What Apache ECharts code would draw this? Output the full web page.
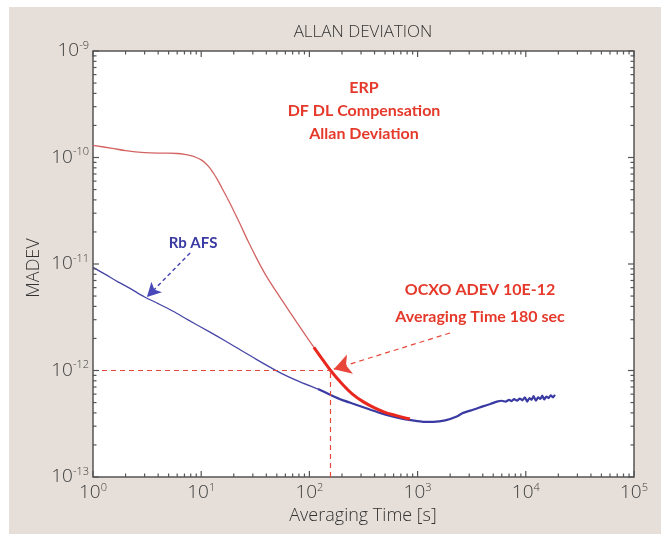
<!DOCTYPE html>
<html>
<head>
<meta charset="utf-8">
<script src="https://cdn.jsdelivr.net/npm/echarts@6/dist/echarts.min.js"></script>
<style>
html,body{margin:0;padding:0;background:#ffffff;}
#chart{width:661px;height:534px;}
</style>
</head>
<body>
<div id="chart"></div>
<script>
// ---- data ----
// ERP (DF DL compensation) curve, thin part
const redTau = [1, 1.5, 2, 3, 4, 5, 6, 7, 8, 9, 10, 11, 12, 13, 14, 16, 18, 20, 23, 27, 33, 40, 54, 77, 100, 130, 157];
const redVal = [1.30e-10, 1.22e-10, 1.16e-10, 1.11e-10, 1.10e-10, 1.10e-10, 1.09e-10, 1.07e-10, 1.04e-10, 1.0e-10, 9.5e-11, 8.8e-11, 8.0e-11, 7.1e-11, 6.3e-11, 4.9e-11, 3.9e-11, 3.15e-11, 2.35e-11, 1.65e-11, 1.1e-11, 7.7e-12, 4.8e-12, 2.8e-12, 1.9e-12, 1.3e-12, 1.0e-12];
// ERP curve, bold highlighted part
const redTau2 = [110, 130, 157, 200, 250, 313, 400, 500, 620, 750, 850];
const redVal2 = [1.65e-12, 1.3e-12, 1.0e-12, 7.5e-13, 6.0e-13, 5.1e-13, 4.45e-13, 4.05e-13, 3.8e-13, 3.6e-13, 3.5e-13];
// Rb AFS curve, thin early part
const blueTau = [1, 1.3, 1.7, 2.2, 3, 4, 5.5, 7.5, 10, 14, 20, 30, 54, 80, 120];
const blueVal = [9.3e-12, 8.0e-12, 6.8e-12, 5.9e-12, 4.9e-12, 4.25e-12, 3.6e-12, 3.0e-12, 2.55e-12, 2.1e-12, 1.7e-12, 1.33e-12, 9.5e-13, 7.9e-13, 6.7e-13];
// Rb AFS curve, noisy later part
const blueTau2 = [120, 157, 200, 250, 320, 449, 560, 700, 900, 1122, 1400, 1800, 2300, 2630, 3300, 4000, 4700, 5400, 6000, 6500, 7000, 7400, 7800, 8300, 8800, 9300, 9800, 10300, 10800, 11300, 11800, 12400, 13000, 13600, 14200, 14800, 15500, 16200, 17000, 17800, 18600];
const blueVal2 = [6.7e-13, 5.9e-13, 5.3e-13, 4.9e-13, 4.5e-13, 4.0e-13, 3.75e-13, 3.55e-13, 3.4e-13, 3.3e-13, 3.3e-13, 3.4e-13, 3.7e-13, 4.0e-13, 4.3e-13, 4.6e-13, 4.85e-13, 5.1e-13, 5.2e-13, 5.1e-13, 5.3e-13, 5.15e-13, 5.4e-13, 5.2e-13, 5.45e-13, 5.25e-13, 5.6e-13, 5.1e-13, 5.5e-13, 5.3e-13, 5.75e-13, 5.2e-13, 5.6e-13, 5.4e-13, 5.8e-13, 5.35e-13, 5.7e-13, 5.5e-13, 5.85e-13, 5.6e-13, 5.9e-13];
// marker: 1e-12 reached at ~160 s
const markTau = 157;
const markVal = 1e-12;
// axis ticks
const xMajorTicks = [1, 10, 100, 1000, 10000, 100000];
const yMajorTicks = [1e-13, 1e-12, 1e-11, 1e-10, 1e-9];
const minorMultipliers = [2, 3, 4, 5, 6, 7, 8, 9];
const xMin = 1, xMax = 100000, yMin = 1e-13, yMax = 1e-9;

const xMinorTicks = [];
xMajorTicks.slice(0, -1).forEach(d => minorMultipliers.forEach(m => xMinorTicks.push(d * m)));
const yMinorTicks = [];
yMajorTicks.slice(0, -1).forEach(d => minorMultipliers.forEach(m => yMinorTicks.push(d * m)));

const zip = (a, b) => a.map((v, i) => [v, b[i]]);

const xTickData = xMajorTicks.map(v => [v, yMin, 1]).concat(xMinorTicks.map(v => [v, yMin, 0]));
const yTickData = yMajorTicks.map(v => [xMin, v, 1]).concat(yMinorTicks.map(v => [xMin, v, 0]));

const FONT = '"Open Sans", "DejaVu Sans", sans-serif';
const BOLD = 'Lato, "Open Sans", sans-serif';
const RED = '#e5392b';
const BLUE = '#3a3aa3';
const TICK = '#555555';

function fmt(v) {
  const e = Math.round(Math.log10(v));
  return '10{sup|' + e + '}';
}
const richLabel = {
  sup: { fontSize: 11, fontFamily: FONT, color: '#3c3c3c', padding: [0, 0, 11, 0] }
};

const chart = echarts.init(document.getElementById('chart'), null, { renderer: 'canvas' });
chart.setOption({
  animation: false,
  backgroundColor: '#ffffff',
  graphic: [
    { type: 'rect', z: -10, silent: true, shape: { x: 9, y: 7, width: 652, height: 527 }, style: { fill: '#e6dfd9' } },
    { type: 'text', x: 363, y: 32, style: { text: 'ALLAN DEVIATION', fill: '#333', font: '300 17px ' + FONT, textAlign: 'center', textVerticalAlign: 'middle' } },
    { type: 'text', x: 363, y: 516, style: { text: 'Averaging Time [s]', fill: '#333', font: '300 18px ' + FONT, textAlign: 'center', textVerticalAlign: 'middle' } },
    { type: 'text', x: 34, y: 268, rotation: Math.PI / 2, style: { text: 'MADEV', fill: '#333', font: '300 18px ' + FONT, textAlign: 'center', textVerticalAlign: 'middle' } },
    { type: 'text', x: 364, y: 88, z: 20, style: { text: 'ERP', fill: RED, font: 'bold 16px ' + BOLD, textAlign: 'center', textVerticalAlign: 'middle' } },
    { type: 'text', x: 364, y: 111, z: 20, style: { text: 'DF DL Compensation', fill: RED, font: 'bold 16px ' + BOLD, textAlign: 'center', textVerticalAlign: 'middle' } },
    { type: 'text', x: 364, y: 134, z: 20, style: { text: 'Allan Deviation', fill: RED, font: 'bold 16px ' + BOLD, textAlign: 'center', textVerticalAlign: 'middle' } },
    { type: 'text', x: 480, y: 290, z: 20, style: { text: 'OCXO ADEV 10E-12', fill: RED, font: 'bold 16px ' + BOLD, textAlign: 'center', textVerticalAlign: 'middle' } },
    { type: 'text', x: 480, y: 317, z: 20, style: { text: 'Averaging Time 180 sec', fill: RED, font: 'bold 16px ' + BOLD, textAlign: 'center', textVerticalAlign: 'middle' } },
    { type: 'text', x: 193, y: 243, z: 20, style: { text: 'Rb AFS', fill: BLUE, font: 'bold 15px ' + BOLD, textAlign: 'center', textVerticalAlign: 'middle' } }
  ],
  grid: {
    left: 93, right: 27, top: 51, bottom: 57,
    show: true, backgroundColor: '#ffffff', borderColor: '#555555', borderWidth: 1.5,
    outerBoundsMode: 'none'
  },
  xAxis: {
    type: 'log', logBase: 10, min: xMin, max: xMax,
    axisLine: { show: false }, axisTick: { show: false }, splitLine: { show: false },
    axisLabel: { margin: 5, fontSize: 19, fontWeight: 300, fontFamily: FONT, color: '#3c3c3c', formatter: fmt, rich: richLabel }
  },
  yAxis: {
    type: 'log', logBase: 10, min: yMin, max: yMax,
    axisLine: { show: false }, axisTick: { show: false }, splitLine: { show: false },
    axisLabel: { margin: 4, fontSize: 19, fontWeight: 300, fontFamily: FONT, color: '#3c3c3c', formatter: fmt, rich: richLabel }
  },
  series: [
    {
      type: 'custom', name: 'xticks', silent: true, clip: false, z: 5,
      data: xTickData,
      renderItem: function (params, api) {
        const v = api.value(0);
        const b = api.coord([v, yMin]);
        const t = api.coord([v, yMax]);
        const len = api.value(2) ? 6 : 3.5;
        return { type: 'group', children: [
          { type: 'line', shape: { x1: b[0], y1: b[1], x2: b[0], y2: b[1] - len }, style: { stroke: TICK, lineWidth: 1.2 } },
          { type: 'line', shape: { x1: t[0], y1: t[1], x2: t[0], y2: t[1] + len }, style: { stroke: TICK, lineWidth: 1.2 } }
        ] };
      }
    },
    {
      type: 'custom', name: 'yticks', silent: true, clip: false, z: 5,
      data: yTickData,
      renderItem: function (params, api) {
        const v = api.value(1);
        const l = api.coord([xMin, v]);
        const r = api.coord([xMax, v]);
        const len = api.value(2) ? 6 : 3.5;
        return { type: 'group', children: [
          { type: 'line', shape: { x1: l[0], y1: l[1], x2: l[0] + len, y2: l[1] }, style: { stroke: TICK, lineWidth: 1.2 } },
          { type: 'line', shape: { x1: r[0], y1: r[1], x2: r[0] - len, y2: r[1] }, style: { stroke: TICK, lineWidth: 1.2 } }
        ] };
      }
    },
    {
      type: 'line', name: 'Rb AFS', data: zip(blueTau, blueVal), showSymbol: false, smooth: 0.3,
      lineStyle: { color: '#4646a6', width: 1.3 }, z: 3,
      markLine: {
        silent: true, symbol: ['none', 'arrow'], symbolSize: [11, 14], label: { show: false },
        lineStyle: { color: '#4848b8', type: [4, 3], width: 1.5 },
        data: [[{ coord: [7.9, 1.27e-11] }, { coord: [3.15, 4.9e-12] }]]
      }
    },
    {
      type: 'line', name: 'Rb AFS noisy', data: zip(blueTau2, blueVal2), showSymbol: false, smooth: 0.2,
      lineStyle: { color: BLUE, width: 2.2 }, z: 3
    },
    {
      type: 'line', name: 'ERP', data: zip(redTau, redVal), showSymbol: false, smooth: 0.3,
      lineStyle: { color: '#d46464', width: 1.3 }, z: 4
    },
    {
      type: 'line', name: 'ERP bold', data: zip(redTau2, redVal2), showSymbol: false, smooth: 0.3,
      lineStyle: { color: '#e8281e', width: 3 }, z: 4,
      markLine: {
        silent: true, label: { show: false }, symbol: ['none', 'none'],
        lineStyle: { color: '#e8463a', type: [5, 4], width: 1.2 },
        data: [
          [{ coord: [xMin, markVal] }, { coord: [markTau, markVal] }],
          [{ coord: [markTau, yMin] }, { coord: [markTau, markVal] }],
          [{ coord: [1995, 2.25e-12], symbol: 'none' }, { coord: [168, 1.03e-12], symbol: 'arrow', symbolSize: [15, 17] }]
        ]
      }
    }
  ]
});
</script>
</body>
</html>
